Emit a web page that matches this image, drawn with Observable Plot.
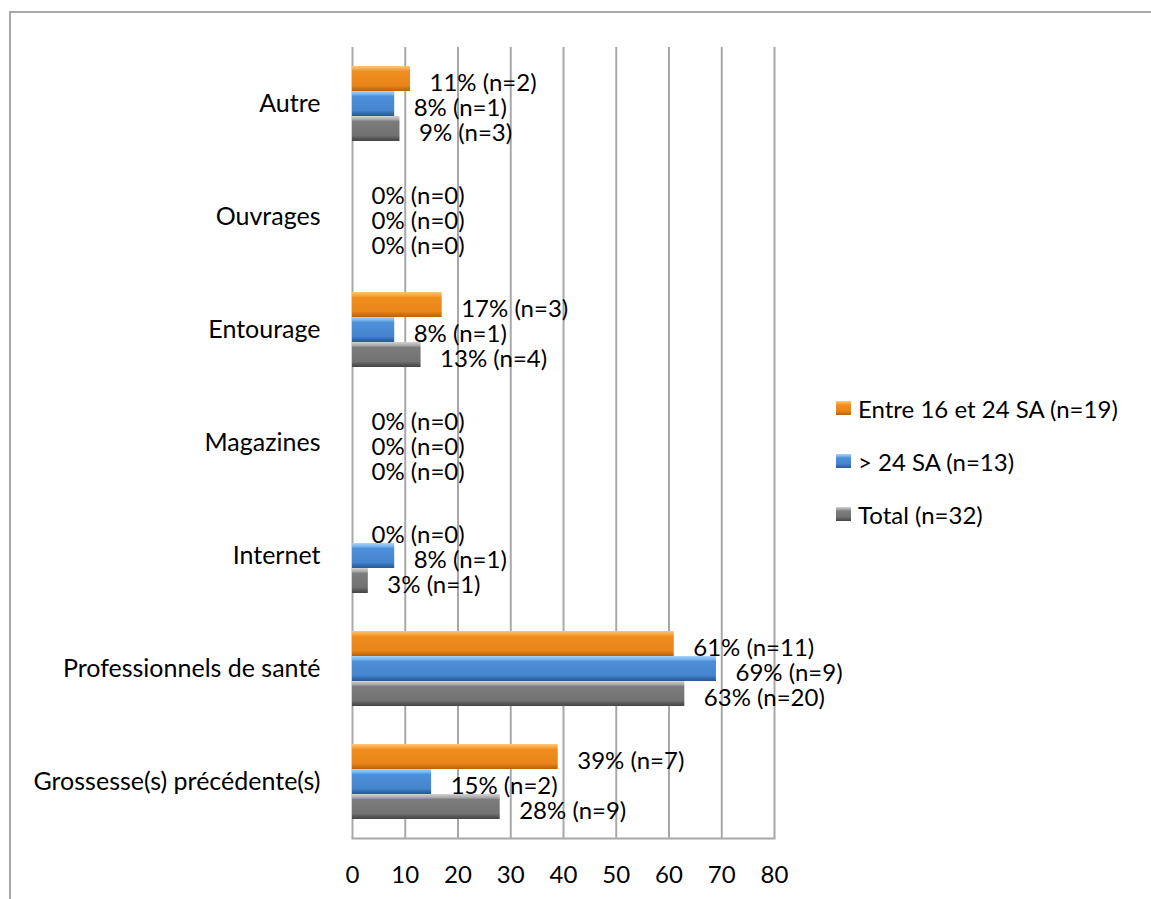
<!DOCTYPE html>
<html>
<head>
<meta charset="utf-8">
<script src="https://cdn.jsdelivr.net/npm/d3@7"></script>
<script src="https://cdn.jsdelivr.net/npm/@observablehq/plot@0.6"></script>
<style>
  html, body { margin: 0; padding: 0; background: #fff; }
  body { width: 1151px; height: 899px; position: relative; overflow: hidden; font-family: Lato, "Open Sans", sans-serif; }
  #chart { position: absolute; left: 0; top: 0; }
  #frame { position: absolute; left: 9px; top: 11px; width: 1300px; height: 1000px; border-top: 2px solid #A8A8A8; border-left: 2px solid #A8A8A8; pointer-events: none; }
  #legend { position: absolute; left: 836px; top: 394px; font-family: Lato, sans-serif; font-size: 24px; color: #000; }
  .item { display: flex; align-items: center; height: 28px; margin-bottom: 25px; }
  .sw { width: 15px; height: 14px; margin-right: 7px; }
</style>
</head>
<body>
<div id="chart"></div>
<div id="frame"></div>
<div id="legend"></div>
<script>
// ---- data ----
const categories = ["Autre", "Ouvrages", "Entourage", "Magazines", "Internet", "Professionnels de santé", "Grossesse(s) précédente(s)"];
const seriesNames = ["Entre 16 et 24 SA (n=19)", "> 24 SA (n=13)", "Total (n=32)"];
const pct16to24 = [11, 0, 17, 0, 0, 61, 39];
const n16to24   = [2, 0, 3, 0, 0, 11, 7];
const pctOver24 = [8, 0, 8, 0, 8, 69, 15];
const nOver24   = [1, 0, 1, 0, 1, 9, 2];
const pctTotal  = [9, 0, 13, 0, 3, 63, 28];
const nTotal    = [3, 0, 4, 0, 1, 20, 9];
const xTicks = [0, 10, 20, 30, 40, 50, 60, 70, 80];

const seriesPct = [pct16to24, pctOver24, pctTotal];
const seriesN = [n16to24, nOver24, nTotal];
const table = [];
categories.forEach((c, i) => {
  seriesNames.forEach((s, j) => {
    table.push({category: c, series: s, value: seriesPct[j][i], n: seriesN[j][i]});
  });
});

const gradIds = ["gOrange", "gBlue", "gGray"];

const plot = Plot.plot({
  width: 1151,
  height: 899,
  marginLeft: 352,
  marginRight: 377,
  marginTop: 46,
  marginBottom: 61,
  style: {fontFamily: "Lato, sans-serif", background: "transparent"},
  x: {domain: [0, 80], axis: null},
  y: {domain: seriesNames, paddingInner: 0, paddingOuter: 0.76, axis: null},
  fy: {domain: categories, padding: 0, axis: null},
  color: {type: "ordinal", domain: seriesNames, range: gradIds.map(g => `url(#${g})`)},
  marks: [
    Plot.ruleX(xTicks, {stroke: "#A8A8A8", strokeWidth: 2}),
    Plot.frame({anchor: "bottom", facetAnchor: "bottom", stroke: "#A8A8A8", strokeWidth: 2}),
    Plot.barX(table, {x: "value", y: "series", fy: "category", fill: "series"}),
    Plot.text(table, {
      x: "value", y: "series", fy: "category",
      text: d => `${d.value}% (n=${d.n})`,
      textAnchor: "start", dx: 19, dy: 4, fontSize: 24, fill: "#000"
    }),
    Plot.axisFy({anchor: "left", tickSize: 0, tickPadding: 32, fontSize: 25, label: null, color: "#000"}),
    Plot.axisX({ticks: xTicks, tickSize: 0, tickPadding: 27, fontSize: 24, label: null, color: "#000"})
  ]
});

const defs = `
<linearGradient id="gOrange" x1="0" y1="0" x2="0" y2="1">
  <stop offset="0" stop-color="#FFC878"/>
  <stop offset="0.14" stop-color="#F9A33C"/>
  <stop offset="0.22" stop-color="#EF8D1E"/>
  <stop offset="0.78" stop-color="#E9851A"/>
  <stop offset="0.88" stop-color="#D47410"/>
  <stop offset="1" stop-color="#B8620A"/>
</linearGradient>
<linearGradient id="gBlue" x1="0" y1="0" x2="0" y2="1">
  <stop offset="0" stop-color="#A8D6FA"/>
  <stop offset="0.14" stop-color="#72B0EC"/>
  <stop offset="0.22" stop-color="#4D8FD8"/>
  <stop offset="0.78" stop-color="#4585CE"/>
  <stop offset="0.88" stop-color="#346DB0"/>
  <stop offset="1" stop-color="#285892"/>
</linearGradient>
<linearGradient id="gGray" x1="0" y1="0" x2="0" y2="1">
  <stop offset="0" stop-color="#D4D4D4"/>
  <stop offset="0.14" stop-color="#A8A8A8"/>
  <stop offset="0.22" stop-color="#7C7C7C"/>
  <stop offset="0.78" stop-color="#727272"/>
  <stop offset="0.88" stop-color="#5A5A5A"/>
  <stop offset="1" stop-color="#444444"/>
</linearGradient>`;
const svgEl = plot.tagName.toLowerCase() === "svg" ? plot : plot.querySelector("svg");
d3.select(svgEl).insert("defs", ":first-child").html(defs);
document.getElementById("chart").appendChild(plot);

// legend
const cssGrad = [
  "linear-gradient(#FFC878, #EF8D1E 30%, #E9851A 70%, #B8620A)",
  "linear-gradient(#A8D6FA, #4D8FD8 30%, #4585CE 70%, #285892)",
  "linear-gradient(#D4D4D4, #7C7C7C 30%, #727272 70%, #444444)"
];
const legend = d3.select("#legend");
seriesNames.forEach((s, j) => {
  const it = legend.append("div").attr("class", "item");
  it.append("div").attr("class", "sw").style("background", cssGrad[j]);
  it.append("span").text(s);
});
</script>
</body>
</html>
